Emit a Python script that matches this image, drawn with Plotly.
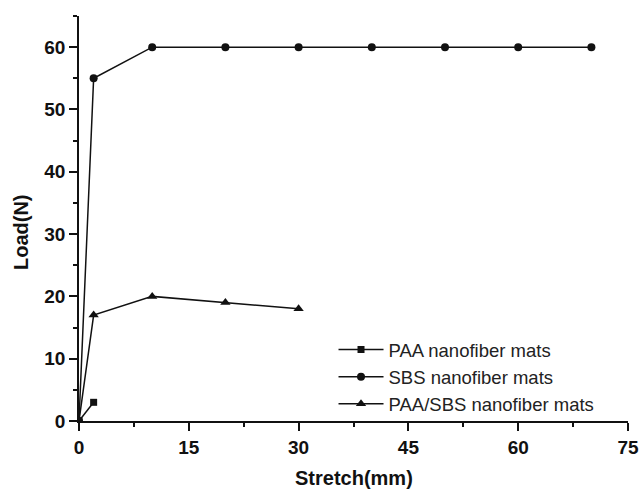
import plotly.graph_objects as go

paa_x = [0, 2]
paa_y = [0, 3]
sbs_x = [0, 2, 10, 20, 30, 40, 50, 60, 70]
sbs_y = [0, 55, 60, 60, 60, 60, 60, 60, 60]
mix_x = [0, 2, 10, 20, 30]
mix_y = [0, 17, 20, 19, 18]

x_ticks = [0, 15, 30, 45, 60, 75]
y_ticks = [0, 10, 20, 30, 40, 50, 60]

FONT = "Liberation Sans, Arial, sans-serif"
INK = "#111111"

fig = go.Figure()
fig.add_trace(go.Scatter(x=paa_x, y=paa_y, mode="lines+markers", name="PAA nanofiber mats",
                         line=dict(color=INK, width=1.5),
                         marker=dict(symbol="square", size=7, color=INK)))
fig.add_trace(go.Scatter(x=sbs_x, y=sbs_y, mode="lines+markers", name="SBS nanofiber mats",
                         line=dict(color=INK, width=1.5),
                         marker=dict(symbol="circle", size=8, color=INK)))
fig.add_trace(go.Scatter(x=mix_x, y=mix_y, mode="lines+markers", name="PAA/SBS nanofiber mats",
                         line=dict(color=INK, width=1.5),
                         marker=dict(symbol="triangle-up", size=9, color=INK)))

fig.update_layout(
    width=640, height=489,
    margin=dict(l=79, r=12, t=16, b=68, autoexpand=False),
    paper_bgcolor="white", plot_bgcolor="white",
    font=dict(family=FONT, color=INK),
    showlegend=True,
    legend=dict(x=0.4636, y=0.222, xanchor="left", yanchor="top",
                font=dict(size=18.5, family=FONT, color="#222"),
                bgcolor="rgba(0,0,0,0)", tracegroupgap=0, itemwidth=45),
    annotations=[
        dict(text="<b>Load(N)</b>", xref="paper", yref="paper", x=-0.1056, y=0.4667,
             xanchor="center", yanchor="middle", textangle=-90, showarrow=False,
             font=dict(size=20, family=FONT, color=INK)),
        dict(text="<b>Stretch(mm)</b>", xref="paper", yref="paper", x=0.5, y=-0.1407,
             xanchor="center", yanchor="middle", showarrow=False,
             font=dict(size=20, family=FONT, color=INK)),
    ],
)
fig.update_xaxes(range=[0, 75], tickvals=x_ticks, ticktext=[f"<b>{v}</b>" for v in x_ticks],
                 automargin=False,
                 showline=True, linecolor=INK, linewidth=1.8,
                 ticks="outside", ticklen=8, tickwidth=1.5, tickcolor=INK,
                 minor=dict(ticks="outside", ticklen=4, tickwidth=1.5, tickcolor=INK, dtick=7.5),
                 showgrid=False, zeroline=False,
                 tickfont=dict(size=19, family=FONT, color=INK))
fig.update_yaxes(range=[0, 65], tickvals=y_ticks, ticktext=[f"<b>{v}</b>" for v in y_ticks],
                 automargin=False,
                 showline=True, linecolor=INK, linewidth=1.8,
                 ticks="outside", ticklen=8, tickwidth=1.5, tickcolor=INK,
                 minor=dict(ticks="outside", ticklen=4, tickwidth=1.5, tickcolor=INK, dtick=5),
                 showgrid=False, zeroline=False,
                 tickfont=dict(size=19, family=FONT, color=INK))

fig.write_html("out.html")
